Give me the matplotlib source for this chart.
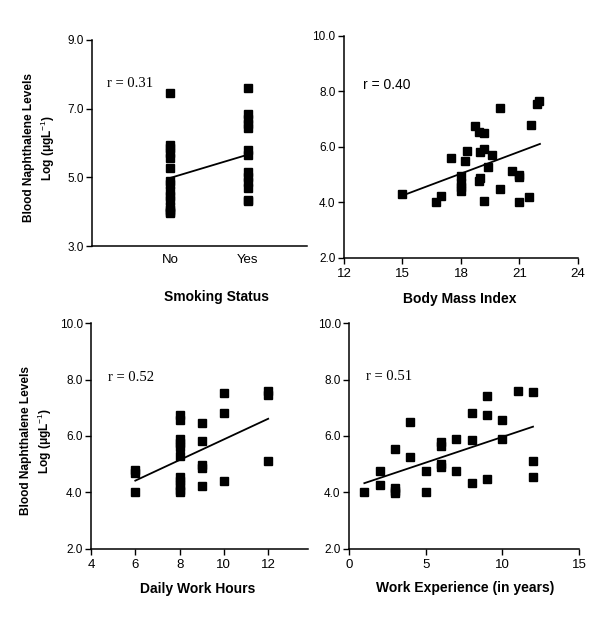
import numpy as np
import matplotlib
matplotlib.use("Agg")
import matplotlib.pyplot as plt

# ---------------- data ----------------
smoke_categories = ["No", "Yes"]
smoke_no = [7.45, 5.95, 5.85, 5.7, 5.55, 5.27, 4.9, 4.8, 4.6, 4.45, 4.35, 4.15, 4.05, 4.0, 3.95]
smoke_yes = [7.6, 6.85, 6.7, 6.55, 6.45, 5.8, 5.65, 5.15, 5.0, 4.85, 4.7, 4.35, 4.3]
smoke_trend_x = [1, 2]
smoke_trend_y = [4.98, 5.66]

bmi = [15.0, 16.7, 17.0, 17.5, 18.0, 18.0, 18.0, 18.0, 18.2, 18.3, 18.7, 18.9, 19.2, 19.0,
       19.2, 18.9, 19.0, 19.6, 19.4, 19.2, 20.0, 20.0, 20.6, 21.0, 21.0, 21.0, 21.5, 21.6,
       21.9, 22.0]
bmi_nap = [4.3, 4.03, 4.25, 5.6, 4.4, 4.55, 4.7, 4.95, 5.5, 5.85, 6.75, 6.55, 6.5, 5.83,
           5.92, 4.77, 4.87, 5.7, 5.27, 4.05, 7.42, 4.47, 5.13, 4.99, 4.91, 4.03, 4.19, 6.79,
           7.55, 7.65]
bmi_trend_x = [15.0, 22.05]
bmi_trend_y = [4.25, 6.11]

hours = [6, 6, 6, 8, 8, 8, 8, 8, 8, 8, 8, 8, 8, 8, 9, 9, 9, 9, 9, 10, 10, 10, 12, 12, 12]
hours_nap = [4.8, 4.7, 4.03, 6.75, 6.55, 5.9, 5.75, 5.6, 5.29, 4.55, 4.4, 4.25, 4.1, 4.0,
             6.47, 5.83, 4.97, 4.88, 4.23, 7.53, 6.8, 4.42, 7.6, 7.45, 5.13]
hours_trend_x = [6, 12]
hours_trend_y = [4.42, 6.61]

exper = [1, 2, 2, 3, 3, 3, 3, 4, 4, 5, 5, 6, 6, 6, 6, 7, 7, 8, 8, 8, 9, 9, 9, 10, 10, 11,
         12, 12, 12]
exper_nap = [4.03, 4.77, 4.27, 5.55, 4.15, 4.05, 3.97, 6.48, 5.27, 4.77, 4.0, 5.8, 5.65, 5.0,
             4.9, 5.9, 4.75, 6.8, 5.85, 4.33, 7.4, 6.75, 4.47, 6.58, 5.88, 7.6, 7.55, 5.12,
             4.56]
exper_trend_x = [1, 12]
exper_trend_y = [4.33, 6.33]

r_texts = ["r = 0.31", "r = 0.40", "r = 0.52", "r = 0.51"]
xlabels = ["Smoking Status", "Body Mass Index", "Daily Work Hours", "Work Experience (in years)"]
ylabel = "Blood Naphthalene Levels\nLog (\u03bcgL$^{-1}$)"

# ---------------- figure ----------------
SANS = "Liberation Sans"
SERIF = "Liberation Serif"
plt.rcParams["font.family"] = SANS
plt.rcParams["mathtext.fontset"] = "custom"
plt.rcParams["mathtext.rm"] = SANS
plt.rcParams["mathtext.bf"] = SANS + ":bold"

fig = plt.figure(figsize=(6, 6.4), dpi=100)
ax1 = fig.add_axes([0.1533, 0.6156, 0.3583, 0.3219])
ax2 = fig.add_axes([0.5733, 0.5969, 0.3900, 0.3469])
ax3 = fig.add_axes([0.1517, 0.1422, 0.3617, 0.3531])
ax4 = fig.add_axes([0.5817, 0.1422, 0.3833, 0.3531])

def style(ax):
    for s in ("top", "right"):
        ax.spines[s].set_visible(False)
    for s in ("left", "bottom"):
        ax.spines[s].set_linewidth(1.1)
    ax.tick_params(direction="out", length=4, width=1, colors="black")
    ax.tick_params(axis="y", labelsize=8.5, pad=2)
    ax.tick_params(axis="x", labelsize=9.5, pad=3)

def scatter_trend(ax, x, y, tx, ty):
    ax.plot(x, y, linestyle="none", marker="s", ms=5.2, color="black", mec="black")
    ax.plot(tx, ty, color="black", lw=1.3)

# Panel 1 - smoking
sx = [1] * len(smoke_no) + [2] * len(smoke_yes)
sy = smoke_no + smoke_yes
scatter_trend(ax1, sx, sy, smoke_trend_x, smoke_trend_y)
ax1.set_xlim(0, 2.76)
ax1.set_ylim(3, 9)
ax1.set_yticks([3, 5, 7, 9])
ax1.set_yticklabels(["3.0", "5.0", "7.0", "9.0"])
ax1.set_xticks([1, 2])
ax1.set_xticklabels(smoke_categories)
style(ax1)
ax1.tick_params(axis="x", length=0, pad=6)
ax1.text(0.19, 7.74, r_texts[0], family=SERIF, fontsize=10.5, ha="left", va="center")

# Panel 2 - BMI
scatter_trend(ax2, bmi, bmi_nap, bmi_trend_x, bmi_trend_y)
ax2.set_xlim(12, 24)
ax2.set_ylim(2, 10)
ax2.set_xticks([12, 15, 18, 21, 24])
ax2.set_yticks([2, 4, 6, 8, 10])
ax2.set_yticklabels(["2.0", "4.0", "6.0", "8.0", "10.0"])
style(ax2)
ax2.text(12.96, 8.23, r_texts[1], family=SANS, fontsize=10, ha="left", va="center")

# Panel 3 - hours
scatter_trend(ax3, hours, hours_nap, hours_trend_x, hours_trend_y)
ax3.set_xlim(4, 13.8)
ax3.set_ylim(2, 10)
ax3.set_xticks([4, 6, 8, 10, 12])
ax3.set_yticks([2, 4, 6, 8, 10])
ax3.set_yticklabels(["2.0", "4.0", "6.0", "8.0", "10.0"])
style(ax3)
ax3.text(4.77, 8.08, r_texts[2], family=SERIF, fontsize=10.5, ha="left", va="center")

# Panel 4 - experience
scatter_trend(ax4, exper, exper_nap, exper_trend_x, exper_trend_y)
ax4.set_xlim(0, 15)
ax4.set_ylim(2, 10)
ax4.set_xticks([0, 5, 10, 15])
ax4.set_yticks([2, 4, 6, 8, 10])
ax4.set_yticklabels(["2.0", "4.0", "6.0", "8.0", "10.0"])
style(ax4)
ax4.text(1.1, 8.1, r_texts[3], family=SERIF, fontsize=10.5, ha="left", va="center")

# axis labels
xl_coords = [(0.58, -0.248), (0.496, -0.185), (0.49, -0.177), (0.504, -0.173)]
for ax, lab, (cx, cy) in zip([ax1, ax2, ax3, ax4], xlabels, xl_coords):
    ax.set_xlabel(lab, fontsize=10, fontweight="bold")
    ax.xaxis.label.set_verticalalignment("center")
    ax.xaxis.set_label_coords(cx, cy)

for ax, (cx, cy) in zip([ax1, ax3], [(-0.242, 0.476), (-0.249, 0.48)]):
    ax.set_ylabel(ylabel, fontsize=8.6, fontweight="bold", linespacing=1.3)
    ax.yaxis.label.set_verticalalignment("center")
    ax.yaxis.set_label_coords(cx, cy)

fig.savefig("out.png", dpi=100, facecolor="white")
